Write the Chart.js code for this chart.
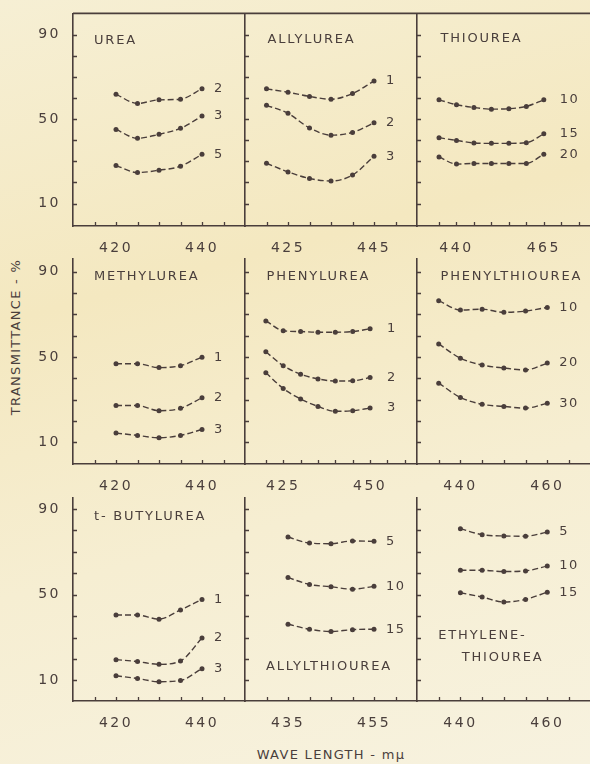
<!DOCTYPE html>
<html>
<head>
<meta charset="utf-8">
<script src="https://cdn.jsdelivr.net/npm/chart.js@4.4.1/dist/chart.umd.min.js"></script>
<style>
  html, body { margin: 0; padding: 0; }
  body { width: 590px; height: 764px; overflow: hidden; }
  #fig { position: relative; width: 590px; height: 764px; overflow: hidden;
    background: linear-gradient(165deg, #f6efd4 0%, #f4e8c0 35%, #f6eed2 65%, #f7f2df 100%); }
  #fig canvas { position: absolute; }
  .axis-title { position: absolute; font-family: "DejaVu Sans"; font-size: 13px; letter-spacing: 1.3px;
    color: #4a3f3c; white-space: nowrap; }
  #ytitle { left: 15px; top: 337px; transform: translate(-50%, -50%) rotate(-90deg); }
  #xtitle { left: 331px; top: 754px; transform: translate(-50%, -50%); }
</style>
</head>
<body>
<div id="fig">
  <div class="axis-title" id="ytitle">TRANSMITTANCE - %</div>
  <div class="axis-title" id="xtitle">WAVE LENGTH - mμ</div>
</div>
<script>
// transmittance (%), by concentration
const ureaX = [420, 425, 430, 435, 440];
const urea2 = [61.7, 57.4, 59.1, 59.4, 64.4];
const urea3 = [45.1, 40.9, 42.8, 45.6, 51.4];
const urea5 = [28.0, 24.7, 25.8, 27.7, 33.3];

const allylureaX = [420, 425, 430, 435, 440, 445];
const allylurea1 = [64.3, 62.7, 60.7, 59.4, 62.1, 68.0];
const allylurea2 = [56.5, 52.7, 45.8, 42.4, 43.7, 48.2];
const allylurea3 = [29.1, 25.0, 21.9, 20.7, 23.5, 32.4];

const thioureaX = [435, 440, 445, 450, 455, 460, 465];
const thiourea10 = [59.1, 56.8, 55.5, 54.7, 54.9, 56.0, 59.1];
const thiourea15 = [41.2, 39.9, 38.7, 38.5, 38.5, 38.8, 43.0];
const thiourea20 = [32.1, 28.7, 29.0, 29.0, 29.0, 29.0, 33.4];

const methylureaX = [420, 425, 430, 435, 440];
const methylurea1 = [46.8, 46.8, 45.0, 45.9, 49.9];
const methylurea2 = [27.2, 27.2, 24.8, 25.9, 30.9];
const methylurea3 = [14.3, 13.2, 12.1, 13.2, 16.0];

const phenylureaX = [420, 425, 430, 435, 440, 445, 450];
const phenylurea1 = [66.9, 62.3, 61.9, 61.6, 61.6, 61.9, 63.2];
const phenylurea2 = [52.4, 45.9, 41.9, 39.7, 38.7, 38.8, 40.3];
const phenylurea3 = [42.6, 35.2, 30.3, 26.8, 24.5, 24.8, 26.0];

const phenylthioureaX = [435, 440, 445, 450, 455, 460];
const phenylthiourea10 = [76.4, 72.0, 72.4, 70.9, 71.5, 73.2];
const phenylthiourea20 = [56.1, 49.4, 46.2, 44.8, 43.9, 47.1];
const phenylthiourea30 = [37.7, 31.0, 27.8, 26.8, 26.0, 28.3];

const butylureaX = [420, 425, 430, 435, 440];
const butylurea1 = [40.5, 40.5, 38.6, 42.9, 47.8];
const butylurea2 = [19.7, 18.8, 17.5, 19.1, 29.8];
const butylurea3 = [12.2, 10.9, 9.4, 10.0, 15.5];

const allylthioureaX = [435, 440, 445, 450, 455];
const allylthiourea5 = [76.9, 74.1, 73.8, 75.1, 74.9];
const allylthiourea10 = [58.0, 54.8, 53.7, 52.6, 53.9];
const allylthiourea15 = [36.2, 33.9, 32.8, 33.7, 33.9];

const ethyleneX = [440, 445, 450, 455, 460];
const ethylene5 = [80.8, 78.0, 77.4, 77.3, 79.2];
const ethylene10 = [61.4, 61.4, 60.8, 61.1, 63.4];
const ethylene15 = [50.9, 48.9, 46.6, 47.8, 51.2];

// tick marks and tick labels
const yTicks = [10, 20, 30, 40, 50, 60, 70, 80, 90];
const yLabels = [10, 50, 90];
const ticks410 = [415, 420, 425, 430, 435, 440, 445];
const ticks415 = [420, 425, 430, 435, 440, 445, 450];
const ticks425 = [430, 435, 440, 445, 450, 455, 460];
const ticks430 = [435, 440, 445, 450, 455, 460, 465];
const ticksThio = [435, 440, 445, 450, 455, 460, 465, 470, 475];
const ticksPhenyl = [420, 425, 430, 435, 440, 445, 450, 455, 460];

const ink = '#4a3e3b';
const textInk = '#4a3f3c';
const font = '"DejaVu Sans"';

const colLeft = [73, 245, 417], colRight = [245, 417, 592];
const rowTop = [11, 256, 495], rowBottom = [226, 464, 701];
const rowY = [[-0.6, 100], [-0.2, 96.2], [0.4, 95.4]];
const padL = 45, padT = 10, padR = 10, padB = 30;

const panels = [
  { row: 0, col: 0, x: ureaX, series: [urea2, urea3, urea5], names: ['2', '3', '5'],
    xMin: 410, xMax: 450, xTicks: ticks410, xLabels: [420, 440],
    title: ['UREA'], titleDx: [21], titleAt: [87.3], labelDx: 12 },
  { row: 0, col: 1, x: allylureaX, series: [allylurea1, allylurea2, allylurea3], names: ['1', '2', '3'],
    xMin: 415, xMax: 455, xTicks: ticks415, xLabels: [425, 445],
    title: ['ALLYLUREA'], titleDx: [22.5], titleAt: [87.7], labelDx: 12 },
  { row: 0, col: 2, x: thioureaX, series: [thiourea10, thiourea15, thiourea20], names: ['10', '15', '20'],
    xMin: 428.7, xMax: 478.8, xTicks: ticksThio, xLabels: [440, 465],
    title: ['THIOUREA'], titleDx: [23.5], titleAt: [88.3], labelDx: 16 },
  { row: 1, col: 0, x: methylureaX, series: [methylurea1, methylurea2, methylurea3], names: ['1', '2', '3'],
    xMin: 410, xMax: 450, xTicks: ticks410, xLabels: [420, 440],
    title: ['METHYLUREA'], titleDx: [21], titleAt: [87.7], labelDx: 12 },
  { row: 1, col: 1, x: phenylureaX, series: [phenylurea1, phenylurea2, phenylurea3], names: ['1', '2', '3'],
    xMin: 414, xMax: 463.5, xTicks: ticksPhenyl, xLabels: [425, 450],
    title: ['PHENYLUREA'], titleDx: [21.5], titleAt: [87.7], labelDx: 17 },
  { row: 1, col: 2, x: phenylthioureaX, series: [phenylthiourea10, phenylthiourea20, phenylthiourea30], names: ['10', '20', '30'],
    xMin: 430, xMax: 470.3, xTicks: ticks430, xLabels: [440, 460],
    title: ['PHENYLTHIOUREA'], titleDx: [23.5], titleAt: [87.7], labelDx: 12 },
  { row: 2, col: 0, x: butylureaX, series: [butylurea1, butylurea2, butylurea3], names: ['1', '2', '3'],
    xMin: 410, xMax: 450, xTicks: ticks410, xLabels: [420, 440],
    title: ['t- BUTYLUREA'], titleDx: [21], titleAt: [86.6], labelDx: 12 },
  { row: 2, col: 1, x: allylthioureaX, series: [allylthiourea5, allylthiourea10, allylthiourea15], names: ['5', '10', '15'],
    xMin: 425, xMax: 465, xTicks: ticks425, xLabels: [435, 455],
    title: ['ALLYLTHIOUREA'], titleDx: [21], titleAt: [16.4], labelDx: 12 },
  { row: 2, col: 2, x: ethyleneX, series: [ethylene5, ethylene10, ethylene15], names: ['5', '10', '15'],
    xMin: 430, xMax: 470.3, xTicks: ticks430, xLabels: [440, 460],
    title: ['ETHYLENE-', 'THIOUREA'], titleDx: [21.3, 44.7], titleAt: [31.1, 20.5], labelDx: 12 }
];

// inward tick marks, top frame, panel names and concentration labels
function makeDecor(p) {
  return {
    id: 'decor',
    beforeDraw(chart) { chart.ctx.letterSpacing = '2.5px'; },
    afterDraw(chart) {
      const { ctx, chartArea: a, scales: { x, y } } = chart;
      ctx.save();
      ctx.strokeStyle = ink;
      ctx.lineWidth = 1.3;
      ctx.setLineDash([]);
      ctx.beginPath();
      p.xTicks.forEach(v => {
        const px = Math.round(x.getPixelForValue(v)) + 0.5;
        ctx.moveTo(px, a.bottom);
        ctx.lineTo(px, a.bottom - 4);
      });
      yTicks.forEach(v => {
        const py = Math.round(y.getPixelForValue(v)) + 0.5;
        ctx.moveTo(a.left, py);
        ctx.lineTo(a.left + 4, py);
      });
      ctx.stroke();
      if (p.row === 0) {
        ctx.lineWidth = 1.6;
        ctx.beginPath();
        ctx.moveTo(a.left, a.top);
        ctx.lineTo(a.right, a.top);
        ctx.stroke();
      }
      ctx.fillStyle = textInk;
      ctx.font = '13px ' + font;
      ctx.letterSpacing = '1.8px';
      ctx.textBaseline = 'middle';
      ctx.textAlign = 'left';
      p.title.forEach((t, i) => ctx.fillText(t, a.left + p.titleDx[i], y.getPixelForValue(p.titleAt[i])));
      ctx.letterSpacing = '1.5px';
      p.series.forEach((s, i) => {
        const n = s.length - 1;
        ctx.fillText(p.names[i], x.getPixelForValue(p.x[n]) + p.labelDx, y.getPixelForValue(s[n]));
      });
      ctx.restore();
    }
  };
}

const fig = document.getElementById('fig');

panels.forEach(p => {
  const w = colRight[p.col] - colLeft[p.col];
  const h = rowBottom[p.row] - rowTop[p.row];
  const cv = document.createElement('canvas');
  cv.width = w + padL + padR;
  cv.height = h + padT + padB;
  cv.style.left = (colLeft[p.col] - padL) + 'px';
  cv.style.top = (rowTop[p.row] - padT) + 'px';
  fig.appendChild(cv);

  new Chart(cv, {
    type: 'line',
    data: {
      datasets: p.series.map(s => ({
        data: s.map((v, i) => ({ x: p.x[i], y: v })),
        borderColor: ink,
        backgroundColor: ink,
        borderWidth: 1.4,
        borderDash: [6, 3],
        pointRadius: 2.5,
        pointBorderWidth: 0,
        cubicInterpolationMode: 'monotone',
        fill: false
      }))
    },
    options: {
      responsive: false,
      animation: false,
      events: [],
      layout: { padding: { top: padT, right: padR, left: 0, bottom: 0 } },
      plugins: { legend: { display: false }, tooltip: { enabled: false } },
      scales: {
        x: {
          type: 'linear',
          min: p.xMin,
          max: p.xMax,
          afterBuildTicks: s => { s.ticks = p.xTicks.map(v => ({ value: v })); },
          afterFit: s => { s.height = padB; },
          grid: { display: false },
          border: { display: true, color: ink, width: 1.6 },
          ticks: {
            autoSkip: false, maxRotation: 0, padding: 6, color: textInk,
            font: { family: 'DejaVu Sans', size: 14 },
            callback: v => p.xLabels.includes(v) ? String(v) : ''
          }
        },
        y: {
          type: 'linear',
          min: rowY[p.row][0],
          max: rowY[p.row][1],
          afterBuildTicks: s => { s.ticks = yTicks.map(v => ({ value: v })); },
          afterFit: s => { s.width = padL; },
          grid: { display: false },
          border: { display: true, color: ink, width: 1.6 },
          ticks: {
            autoSkip: false, padding: 4, color: textInk,
            font: { family: 'DejaVu Sans', size: 14 },
            callback: v => (p.col === 0 && yLabels.includes(v)) ? String(v) : ''
          }
        }
      }
    },
    plugins: [makeDecor(p)]
  });
});
</script>
</body>
</html>
